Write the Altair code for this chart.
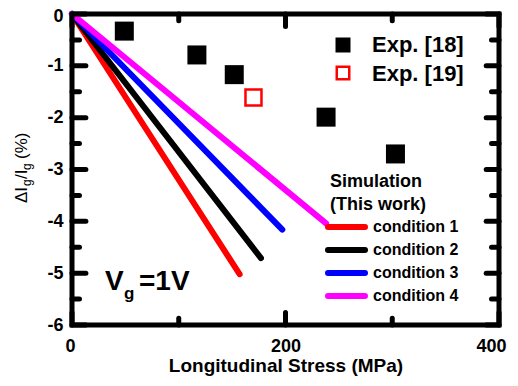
import altair as alt
import pandas as pd

# ---------------- data ----------------
exp18_stress = [49, 117, 152, 238, 303]
exp18_dI = [-0.33, -0.79, -1.17, -1.99, -2.70]
exp19_stress = [170]
exp19_dI = [-1.61]

cond_names = ["condition 1", "condition 2", "condition 3", "condition 4"]
cond_colors = ["#ff0000", "#000000", "#0000ff", "#ff00ff"]
cond_end_stress = [157, 177, 197, 238]
cond_end_dI = [-5.02, -4.71, -4.16, -4.04]

x_major = [0, 200, 400]
x_minor = [100, 300]
y_major = [0, -1, -2, -3, -4, -5, -6]
y_minor = [-0.5, -1.5, -2.5, -3.5, -4.5, -5.5]

exp_labels = ["Exp. [18]", "Exp. [19]"]
sim_title = ["Simulation", "(This work)"]

FONT = "Liberation Sans"

# ---------------- tables ----------------
lines_df = pd.DataFrame(
    [{"cond": n, "stress": 0, "dI": 0} for n in cond_names]
    + [{"cond": n, "stress": s, "dI": d} for n, s, d in zip(cond_names, cond_end_stress, cond_end_dI)]
)
exp18_df = pd.DataFrame({"stress": exp18_stress, "dI": exp18_dI})
exp19_df = pd.DataFrame({"stress": exp19_stress, "dI": exp19_dI})

# inward tick marks (data coordinates)
seg_rows = []
for v in x_major:
    seg_rows += [(v, -6, v, -5.76), (v, 0, v, -0.24)]
for v in x_minor:
    seg_rows += [(v, -6, v, -5.87), (v, 0, v, -0.13)]
for v in y_major:
    seg_rows += [(0, v, 13, v), (400, v, 388, v)]
for v in y_minor:
    seg_rows += [(0, v, 7, v), (400, v, 393, v)]
ticks_df = pd.DataFrame(seg_rows, columns=["tx", "ty", "tx2", "ty2"])

xs = alt.Scale(domain=[0, 400], nice=False, zero=False)
ys = alt.Scale(domain=[-6, 0], nice=False, zero=False)

x_axis = alt.Axis(values=x_major, ticks=False, tickSize=0, domain=False, grid=False,
                  labelFont=FONT, labelFontWeight="bold", labelFontSize=18, labelColor="black",
                  labelPadding=12, labelFlush=True, labelFlushOffset=7,
                  labelExpr="'' + datum.value",
                  title="Longitudinal Stress (MPa)", titleFont=FONT, titleFontWeight="bold",
                  titleFontSize=19, titleColor="black", titlePadding=1)
y_axis = alt.Axis(values=y_major, ticks=False, tickSize=0, domain=False, grid=False,
                  labelFont=FONT, labelFontWeight="bold", labelFontSize=18, labelColor="black",
                  labelPadding=9, labelFlush=False, labelExpr="'' + datum.value",
                  labelOffset={"condition": {"test": "datum.value == 0", "value": 2},
                               "value": 0},
                  title=None)

lines = alt.Chart(lines_df).mark_line(strokeWidth=6, strokeCap="round").encode(
    x=alt.X("stress:Q", scale=xs, axis=x_axis),
    y=alt.Y("dI:Q", scale=ys, axis=y_axis),
    color=alt.Color("cond:N", scale=alt.Scale(domain=cond_names, range=cond_colors), legend=None),
    detail="cond:N",
)

XN = alt.X("stress:Q", scale=xs, axis=None)
YN = alt.Y("dI:Q", scale=ys, axis=None)
sq18 = alt.Chart(exp18_df).mark_square(size=361, filled=True, color="black", opacity=1).encode(x=XN, y=YN)
sq19 = alt.Chart(exp19_df).mark_square(size=256, filled=False, color="#ff0000", strokeWidth=2.5,
                                       opacity=1).encode(x=XN, y=YN)

ticks = alt.Chart(ticks_df).mark_rule(strokeWidth=5, strokeCap="round", color="black").encode(
    x=alt.X("tx:Q", scale=xs, axis=None), x2="tx2:Q",
    y=alt.Y("ty:Q", scale=ys, axis=None), y2="ty2:Q",
)

layers = [lines, ticks, sq18, sq19]

# plot origin on the page is (72, 14); pixel values below are relative to it
OY = -2


def txt(t, px, py, size, weight="normal", align="left", baseline="alphabetic", angle=0):
    return alt.Chart().mark_text(font=FONT, fontWeight=weight, fontSize=size, align=align,
                                 baseline=baseline, angle=angle, color="black").encode(
        x=alt.value(px), y=alt.value(py + OY), text=alt.value(t))


# ---------------- legend (manual) ----------------
layers.append(alt.Chart().mark_square(size=225, filled=True, color="black", opacity=1).encode(
    x=alt.value(271), y=alt.value(33 + OY)))
layers.append(alt.Chart().mark_square(size=156, filled=False, color="#ff0000", strokeWidth=2.5,
                                      opacity=1).encode(x=alt.value(271), y=alt.value(61 + OY)))
for lab, py in zip(exp_labels, [40, 69]):
    layers.append(txt(lab, 300, py, 22, "bold"))
for lab, py in zip(sim_title, [175, 198]):
    layers.append(txt(lab, 258, py, 18, "bold"))

leg_y = [215, 238, 261, 284]
for name, col, py in zip(cond_names, cond_colors, leg_y):
    layers.append(alt.Chart().mark_rule(strokeWidth=6, strokeCap="round", color=col).encode(
        x=alt.value(256), x2=alt.value(293), y=alt.value(py + OY)))
    layers.append(txt(name, 301, py, 16, "bold", baseline="middle"))

# ---------------- annotations ----------------
layers.append(txt("V", 33, 278, 28, "bold"))
layers.append(txt("g", 52, 287, 17, "bold"))
layers.append(txt("=1V", 67, 278, 28, "bold"))

for t, py in zip(["\u0394I", "/I", "(%)"], [191, 167, 147]):
    layers.append(txt(t, -45, py, 17, angle=270))
for py in [174, 158]:
    layers.append(txt("g", -41, py, 12, angle=270))

chart = alt.layer(*layers).resolve_scale(
    x="independent", y="independent"
).properties(
    width=427, height=311, autosize="none",
    padding={"left": 64, "top": 6, "right": 11, "bottom": 52},
    background="white",
).configure_view(stroke="black", strokeWidth=5)

chart.save("out.html", embed_options={"renderer": "svg", "actions": False})
